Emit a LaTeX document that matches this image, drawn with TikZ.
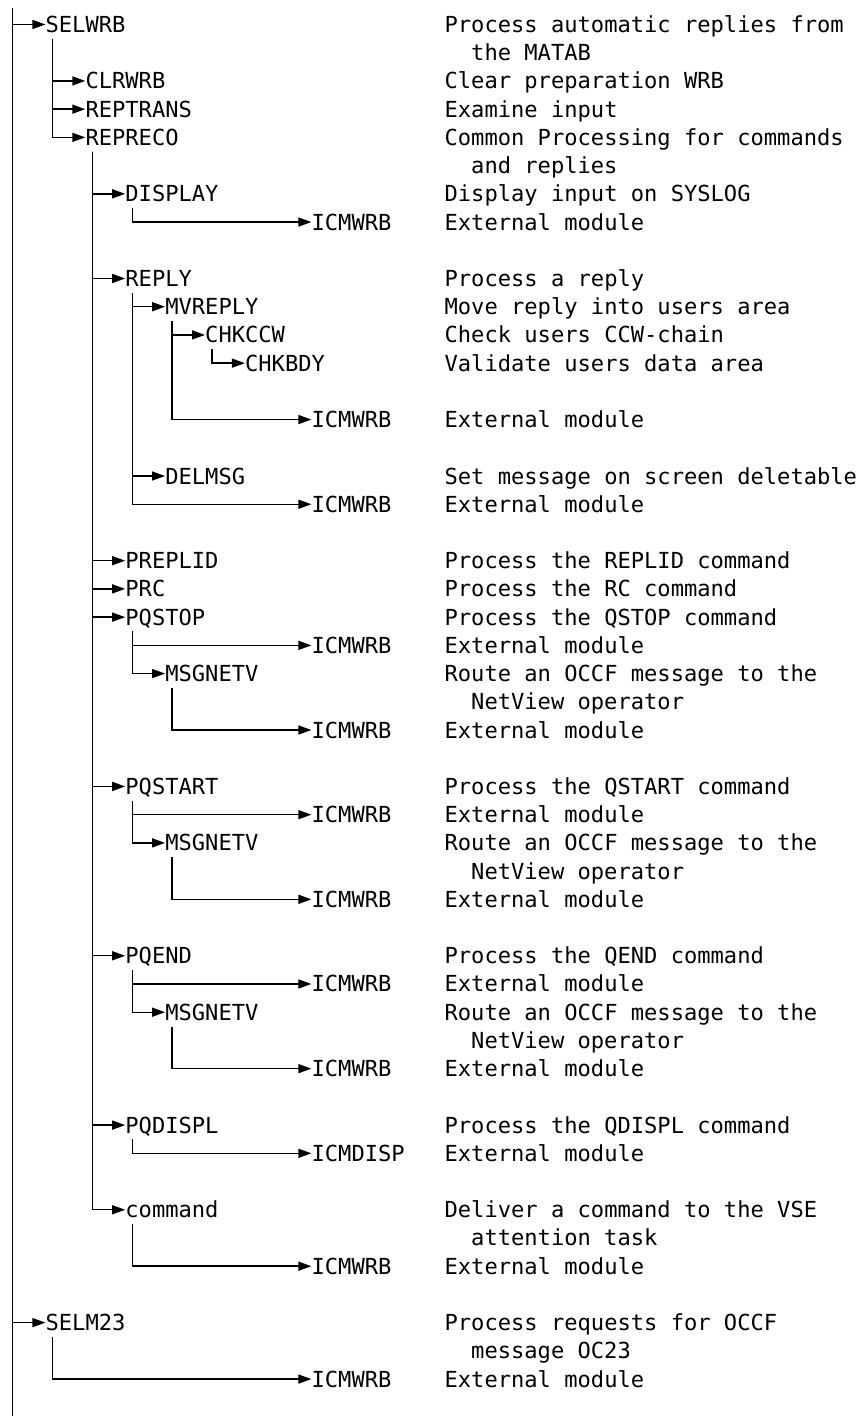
\documentclass[tikz,border=0pt]{standalone}
\usepackage{fontspec}
\newfontfamily\monofont{DejaVu Sans Mono}
\usetikzlibrary{arrows.meta}
\tikzset{
  lbl/.style={font=\monofont\fontsize{22.1pt}{28pt}\selectfont, inner sep=0pt,
    text height=22.1pt, text depth=6.1pt, anchor=west},
  conn/.style={line width=1.4pt, black},
  arr/.style={conn, -{Triangle[length=13pt,width=9pt]}},
}
\begin{document}
\begin{tikzpicture}[x=13.3pt, y=-28.22pt]
\useasboundingbox (0pt,0pt) rectangle (862pt,-1416pt);
\coordinate (top) at (12.5pt,-8pt);
\coordinate (bot) at (12.5pt,-1416pt);
\begin{scope}[shift={(5.5pt,-24.5pt)}]
% tree nodes
\node[lbl] (selwrb)  at (3,0)  {SELWRB};
\node[lbl] (clrwrb)  at (6,2)  {CLRWRB};
\node[lbl] (reptrans) at (6,3) {REPTRANS};
\node[lbl] (repreco) at (6,4)  {REPRECO};
\node[lbl] (display) at (9,6)  {DISPLAY};
\node[lbl] (icma)    at (23,7) {ICMWRB};
\node[lbl] (reply)   at (9,9)  {REPLY};
\node[lbl] (mvreply) at (12,10) {MVREPLY};
\node[lbl] (chkccw)  at (15,11) {CHKCCW};
\node[lbl] (chkbdy)  at (18,12) {CHKBDY};
\node[lbl] (icmb)    at (23,14) {ICMWRB};
\node[lbl] (delmsg)  at (12,16) {DELMSG};
\node[lbl] (icmc)    at (23,17) {ICMWRB};
\node[lbl] (preplid) at (9,19) {PREPLID};
\node[lbl] (prc)     at (9,20) {PRC};
\node[lbl] (pqstop)  at (9,21) {PQSTOP};
\node[lbl] (icmd)    at (23,22) {ICMWRB};
\node[lbl] (msga)    at (12,23) {MSGNETV};
\node[lbl] (icme)    at (23,25) {ICMWRB};
\node[lbl] (pqstart) at (9,27) {PQSTART};
\node[lbl] (icmf)    at (23,28) {ICMWRB};
\node[lbl] (msgb)    at (12,29) {MSGNETV};
\node[lbl] (icmg)    at (23,31) {ICMWRB};
\node[lbl] (pqend)   at (9,33) {PQEND};
\node[lbl] (icmh)    at (23,34) {ICMWRB};
\node[lbl] (msgc)    at (12,35) {MSGNETV};
\node[lbl] (icmi)    at (23,37) {ICMWRB};
\node[lbl] (pqdispl) at (9,39) {PQDISPL};
\node[lbl] (icmdisp) at (23,40) {ICMDISP};
\node[lbl] (command) at (9,42) {command};
\node[lbl] (icmj)    at (23,44) {ICMWRB};
\node[lbl] (selm)    at (3,46) {SELM23};
\node[lbl] (icmk)    at (23,48) {ICMWRB};
% descriptions
\foreach \k/\c/\t in {
  0/33/Process automatic replies from, 1/35/the MATAB,
  2/33/Clear preparation WRB, 3/33/Examine input,
  4/33/Common Processing for commands, 5/35/and replies,
  6/33/Display input on SYSLOG, 7/33/External module,
  9/33/Process a reply, 10/33/Move reply into users area,
  11/33/Check users CCW-chain, 12/33/Validate users data area,
  14/33/External module,
  16/33/Set message on screen deletable, 17/33/External module,
  19/33/Process the REPLID command, 20/33/Process the RC command,
  21/33/Process the QSTOP command, 22/33/External module,
  23/33/Route an OCCF message to the, 24/35/NetView operator,
  25/33/External module,
  27/33/Process the QSTART command, 28/33/External module,
  29/33/Route an OCCF message to the, 30/35/NetView operator,
  31/33/External module,
  33/33/Process the QEND command, 34/33/External module,
  35/33/Route an OCCF message to the, 36/35/NetView operator,
  37/33/External module,
  39/33/Process the QDISPL command, 40/33/External module,
  42/33/Deliver a command to the VSE, 43/35/attention task,
  44/33/External module,
  46/33/Process requests for OCCF, 47/35/message OC23,
  48/33/External module}
  \node[lbl] (d\k) at (\c,\k) {\t};
\end{scope}
% connectors
\draw[conn] (top) -- (bot);
\foreach \c in {selwrb, selm}
  \draw[arr] (top |- \c.west) -- (\c.west);
\foreach \p/\c in {
  selwrb/clrwrb, selwrb/reptrans, selwrb/repreco,
  repreco/display, repreco/reply, repreco/preplid, repreco/prc,
  repreco/pqstop, repreco/pqstart, repreco/pqend, repreco/pqdispl,
  repreco/command,
  display/icma,
  reply/mvreply, reply/delmsg, reply/icmc,
  mvreply/chkccw, mvreply/icmb,
  chkccw/chkbdy,
  pqstop/icmd, pqstop/msga, msga/icme,
  pqstart/icmf, pqstart/msgb, msgb/icmg,
  pqend/icmh, pqend/msgc, msgc/icmi,
  pqdispl/icmdisp, command/icmj, selm/icmk}
  \draw[arr] ([xshift=7pt]\p.south west) |- (\c.west);
\end{tikzpicture}
\end{document}
